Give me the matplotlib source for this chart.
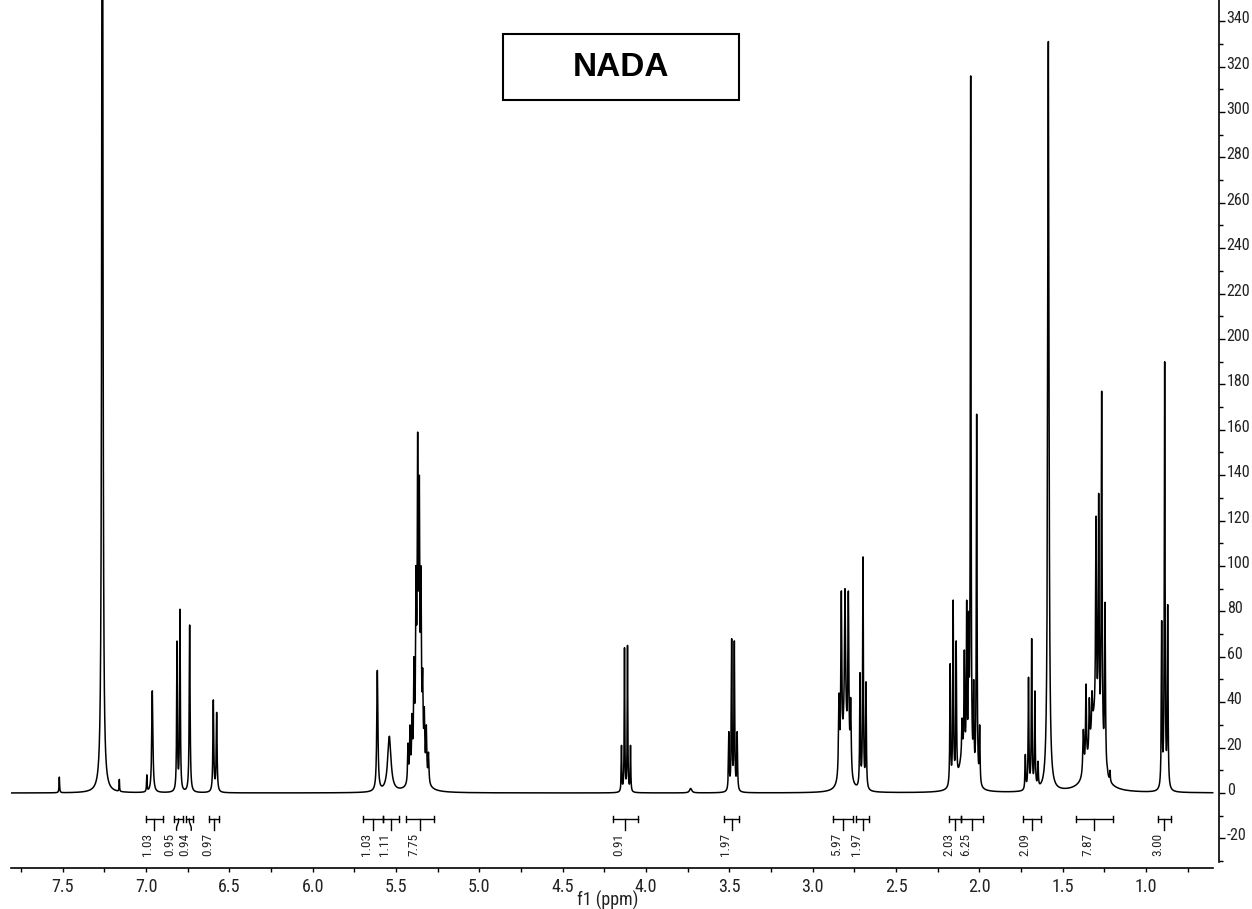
import os
import numpy as np
import matplotlib
matplotlib.use("Agg")
import matplotlib.pyplot as plt
from matplotlib import font_manager as fm
from matplotlib.ticker import MultipleLocator
from matplotlib.transforms import ScaledTranslation
from matplotlib.patches import Rectangle

# ---------------- data ----------------
title = "NADA"
x_label = "f1 (ppm)"

# peak positions (ppm), apparent heights, half widths (ppm)
peak_ppm = [7.520, 7.262, 7.215, 7.160, 6.995, 6.962,
            6.814, 6.796, 6.738, 6.596, 6.576,
            5.612, 5.540,
            5.428, 5.416, 5.404, 5.392, 5.380, 5.370, 5.360, 5.350, 5.340, 5.330, 5.318, 5.305,
            4.147, 4.129, 4.111, 4.093, 3.732,
            3.503, 3.486, 3.470, 3.453,
            2.842, 2.828, 2.806, 2.786, 2.772,
            2.716, 2.698, 2.680,
            2.175, 2.157, 2.139, 2.104, 2.090, 2.076, 2.064, 2.052, 2.034, 2.016, 1.998,
            1.724, 1.705, 1.686, 1.667, 1.648,
            1.586,
            1.376, 1.360, 1.340, 1.324, 1.300, 1.284, 1.266, 1.246, 1.232, 1.216,
            0.906, 0.888, 0.870]
peak_height = [7, 600, 3, 6, 8, 45,
               67, 81, 74, 41, 35.5,
               54, 25,
               22, 30, 35, 60, 100, 159, 140, 100, 55, 38, 30, 18,
               21, 64, 65, 21, 2,
               27, 68, 67, 27,
               44, 89, 90, 89, 42,
               53, 104, 49,
               57, 85, 67, 33, 63, 85, 80, 316, 50, 167, 30,
               17, 51, 68, 45, 14,
               331,
               28, 48, 42, 45, 122, 132, 177, 84, 12, 10,
               76, 190, 83]
peak_hwhm = [0.002, 0.0035, 0.002, 0.0015, 0.002, 0.004,
             0.0025, 0.0025, 0.003, 0.003, 0.003,
             0.004, 0.012,
             0.003, 0.003, 0.003, 0.003, 0.003, 0.003, 0.003, 0.003, 0.003, 0.003, 0.003, 0.003,
             0.002, 0.002, 0.002, 0.002, 0.008,
             0.0025, 0.0025, 0.0025, 0.0025,
             0.0035, 0.0035, 0.0035, 0.0035, 0.0035,
             0.0025, 0.0025, 0.0025,
             0.0025, 0.0025, 0.0025, 0.0025, 0.0025, 0.0025, 0.0025, 0.0025, 0.0025, 0.0025, 0.0025,
             0.0025, 0.0025, 0.0025, 0.0025, 0.0025,
             0.0045,
             0.004, 0.003, 0.003, 0.003, 0.003, 0.003, 0.003, 0.003, 0.002, 0.002,
             0.0025, 0.0025, 0.0025]

# broad underlying envelopes of the multiplets (ppm, height, half width)
envelope_ppm = [5.365, 2.806, 2.100, 1.310]
envelope_height = [25, 30, 15, 30]
envelope_hwhm = [0.020, 0.015, 0.025, 0.035]

# integration regions (ppm) and values
integral_start = [7.00, 6.83, 6.76, 6.62, 5.70, 5.58, 5.44, 4.20, 3.53, 2.88, 2.74, 2.18, 2.11, 1.74, 1.42, 0.93]
integral_end = [6.90, 6.78, 6.72, 6.56, 5.58, 5.48, 5.27, 4.05, 3.44, 2.76, 2.66, 2.11, 1.98, 1.63, 1.20, 0.85]
integral_label = ["1.03", "0.95", "0.94", "0.97", "1.03", "1.11", "7.75", "0.91", "1.97",
                  "5.97", "1.97", "2.03", "6.25", "2.09", "7.87", "3.00"]

x_ticks = [7.5, 7.0, 6.5, 6.0, 5.5, 5.0, 4.5, 4.0, 3.5, 3.0, 2.5, 2.0, 1.5, 1.0]
y_ticks = list(range(-20, 341, 20))

# ---------------- build spectrum ----------------
P = np.array(peak_ppm)
H = np.array(peak_height, dtype=float)
G = np.array(peak_hwhm)
EP = np.array(envelope_ppm)
EH = np.array(envelope_height, dtype=float)
EG = np.array(envelope_hwhm)


def lor(x, c, g):
    return 1.0 / (1.0 + ((x - c) / g) ** 2)


env_at_peaks = lor(P[:, None], EP[None, :], EG[None, :]) @ EH
H_eff = np.maximum(H - env_at_peaks, 0.5)
M = lor(P[:, None], P[None, :], G[None, :])
A = H_eff.copy()
for _ in range(800):
    A *= H_eff / (M @ A)

ppm = np.linspace(0.60, 7.81, 40000)
spec = lor(ppm[:, None], P[None, :], G[None, :]) @ A + lor(ppm[:, None], EP[None, :], EG[None, :]) @ EH


# ---------------- fonts ----------------
def pick_narrow():
    prefs = ['Liberation Sans Narrow', 'Arial Narrow', 'Roboto', 'DejaVu Sans', 'Open Sans',
             'Noto Sans', 'Lato', 'Inter', 'Liberation Sans']
    best = None
    best_rank = 999
    for f in fm.fontManager.ttflist:
        base = os.path.basename(f.fname)
        narrowish = ('Narrow' in f.name or 'Condensed' in f.name or 'Narrow' in base
                     or 'Condensed' in base or str(f.stretch) in ('condensed', 'semi-condensed'))
        if not narrowish:
            continue
        bad = any(k in base for k in ['Bold', 'Italic', 'Oblique', 'Light', 'Thin', 'Medium',
                                       'Black', 'Semi', 'Extra', 'Heavy'])
        if bad or f.style != 'normal':
            continue
        rank = 50
        for i, p in enumerate(prefs):
            if f.name.startswith(p):
                rank = i
                break
        if rank < best_rank:
            best_rank = rank
            best = f.fname
    return best


narrow_file = pick_narrow()


def nfont(size):
    if narrow_file:
        return fm.FontProperties(fname=narrow_file, size=size)
    return fm.FontProperties(family='DejaVu Sans', size=size * 0.8)


# ---------------- figure ----------------
W, Hpx = 1252, 909
fig = plt.figure(figsize=(W / 100, Hpx / 100), dpi=100)
ax_left, ax_right, ax_bottom = 11, 1219, 867.7
ax = fig.add_axes([ax_left / W, (Hpx - ax_bottom) / Hpx, (ax_right - ax_left) / W, ax_bottom / Hpx])

ax.plot(ppm, spec, color='black', lw=1.1)

ax.set_xlim(7.81, 0.5622)
ax.set_ylim(-32.9, 349.3)

for s in ['left', 'top']:
    ax.spines[s].set_visible(False)
ax.spines['right'].set_bounds(-30.6, 349.3)
ax.spines['bottom'].set_bounds(7.81, 0.60)
ax.spines['right'].set_linewidth(1.2)
ax.spines['bottom'].set_linewidth(1.2)

ax.yaxis.tick_right()
ax.set_yticks(y_ticks)
ax.yaxis.set_minor_locator(MultipleLocator(10))
ax.set_xticks(x_ticks)
ax.xaxis.set_minor_locator(MultipleLocator(0.25))

ax.tick_params(axis='y', which='major', direction='out', length=4.3, width=1.0, pad=1.2)
ax.tick_params(axis='y', which='minor', direction='out', length=2.9, width=1.0)
ax.tick_params(axis='x', which='both', direction='out', length=3, width=1.0, pad=4.5)
ax.set_xticklabels([f"{v:.1f}" for v in x_ticks], color='#222222')
ax.set_yticklabels([str(v) for v in y_ticks], color='#222222')
for lab in ax.get_xticklabels():
    lab.set_fontproperties(nfont(13))
shift = ScaledTranslation(0, 4 / 100, fig.dpi_scale_trans)
for lab in ax.get_yticklabels():
    lab.set_fontproperties(nfont(11.5))
    lab.set_transform(lab.get_transform() + shift)

fig.text(608 / W, 1 - 900 / Hpx, x_label, ha='center', va='center',
         fontproperties=nfont(13), color='#222222')

# ---------------- integrals ----------------
starts = np.array(integral_start)
ends = np.array(integral_end)
centers = (starts + ends) / 2


def spread(c, gap):
    order = np.argsort(-c)
    groups = [[i] for i in order]
    pos = {i: c[i] for i in order}
    changed = True
    while changed:
        changed = False
        for k in range(len(groups) - 1):
            g1, g2 = groups[k], groups[k + 1]
            if pos[g1[-1]] - pos[g2[0]] < gap - 1e-9:
                g = g1 + g2
                m = np.mean([c[i] for i in g])
                n = len(g)
                for j, i in enumerate(g):
                    pos[i] = m + (n - 1) / 2 * gap - j * gap
                groups[k:k + 2] = [g]
                changed = True
                break
    return np.array([pos[i] for i in range(len(c))])


lab_pos = spread(centers, 0.088)
y_bar, cap = -11.45, 1.5
for s0, e0, c0, lp, txt in zip(starts, ends, centers, lab_pos, integral_label):
    ax.plot([s0, e0], [y_bar, y_bar], color='black', lw=1.0)
    ax.plot([s0, s0], [y_bar - cap, y_bar + cap], color='black', lw=1.0)
    ax.plot([e0, e0], [y_bar - cap, y_bar + cap], color='black', lw=1.0)
    ax.plot([c0, c0, lp, lp], [y_bar, y_bar - 1.3, y_bar - 3.6, y_bar - 4.9],
            color='black', lw=1.0)
    ax.text(lp, y_bar - 6.0, txt, rotation=90, ha='right', va='top',
            fontproperties=nfont(9.5), color='#222222')

# ---------------- title box ----------------
bx0, by0, bx1, by1 = 502.7, 34, 739.3, 100
fig.add_artist(Rectangle((bx0 / W, 1 - by1 / Hpx), (bx1 - bx0) / W, (by1 - by0) / Hpx,
                         transform=fig.transFigure, facecolor='white', edgecolor='black', lw=1.5))
fig.text((bx0 + bx1) / 2 / W, 1 - 67 / Hpx, title, ha='center', va='center', fontsize=24,
         fontweight='bold', family=['Liberation Sans', 'DejaVu Sans'])

fig.savefig('out.png', dpi=100)
